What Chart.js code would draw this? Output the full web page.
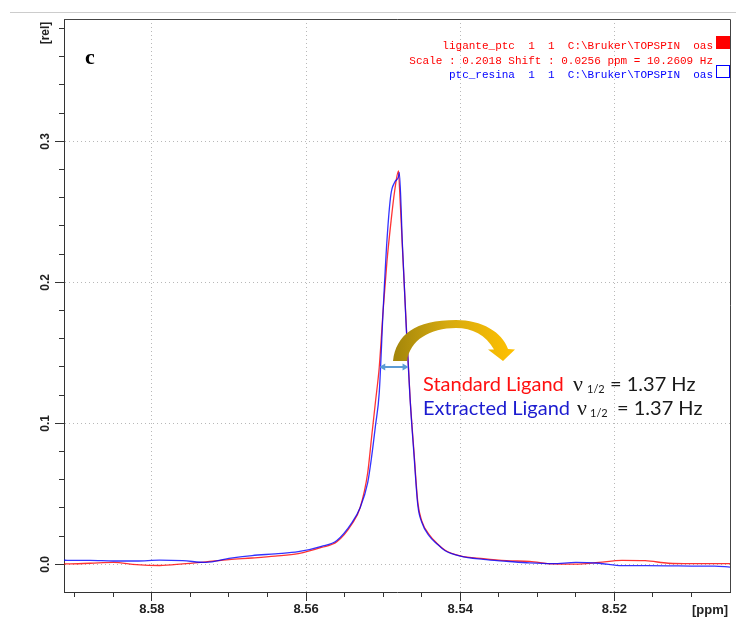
<!DOCTYPE html>
<html><head><meta charset="utf-8">
<script src="https://cdn.jsdelivr.net/npm/chart.js@4.4.0/dist/chart.umd.min.js"></script>
<style>html,body{margin:0;padding:0;background:#fff;}canvas{display:block}</style>
</head><body>
<canvas id="c" width="736" height="618"></canvas>
<script>
// chemical shift axis (ppm), shared by both spectra
const ppm = [8.5914, 8.591, 8.588, 8.585, 8.582, 8.579, 8.576, 8.573, 8.570, 8.567, 8.564, 8.561, 8.558, 8.556, 8.554, 8.553, 8.552, 8.5515, 8.551, 8.5505, 8.550, 8.5495, 8.549, 8.5485, 8.548, 8.5479, 8.5475, 8.547, 8.5465, 8.546, 8.5455, 8.545, 8.544, 8.543, 8.542, 8.540, 8.537, 8.534, 8.531, 8.528, 8.525, 8.522, 8.519, 8.516, 8.513, 8.510, 8.507, 8.505];
// ligante_ptc (standard ligand, red)
const standardLigand = [0.0003, 0.0003, 0.0008, 0.0014, -0.0002, -0.0008, 0.0003, 0.0018, 0.0034, 0.0045, 0.0058, 0.0076, 0.0120, 0.0160, 0.0290, 0.0400, 0.0650, 0.0900, 0.1150, 0.1400, 0.1800, 0.2150, 0.2420, 0.2650, 0.2790, 0.2700, 0.2250, 0.1700, 0.1180, 0.0800, 0.0440, 0.0310, 0.0210, 0.0148, 0.0102, 0.0060, 0.0040, 0.0026, 0.0021, 0.0003, 0.0001, 0.0014, 0.0028, 0.0026, 0.0008, 0.0005, 0.0005, 0.0005];
// ptc_resina (extracted ligand, blue)
const extractedLigand = [0.0030, 0.0028, 0.0028, 0.0024, 0.0024, 0.0030, 0.0026, 0.0014, 0.0042, 0.0062, 0.0075, 0.0090, 0.0128, 0.0170, 0.0300, 0.0400, 0.0580, 0.0760, 0.0980, 0.1220, 0.1800, 0.2300, 0.2620, 0.2710, 0.2750, 0.2780, 0.2270, 0.1680, 0.1170, 0.0780, 0.0420, 0.0300, 0.0200, 0.0145, 0.0098, 0.0058, 0.0035, 0.0022, 0.0010, 0.0005, 0.0014, 0.0008, -0.0009, -0.0009, -0.0010, -0.0012, -0.0013, -0.0019];

const xMajorTicks = [8.58, 8.56, 8.54, 8.52];
const xMinorTicks = [8.59, 8.585, 8.58, 8.575, 8.57, 8.565, 8.56, 8.555, 8.55, 8.545, 8.54, 8.535, 8.53, 8.525, 8.52, 8.515, 8.51];
const yMajorTicks = [0.0, 0.1, 0.2, 0.3];
const yMinorTicks = [0, 0.02, 0.04, 0.06, 0.08, 0.1, 0.12, 0.14, 0.16, 0.18, 0.2, 0.22, 0.24, 0.26, 0.28, 0.3, 0.32, 0.34, 0.36, 0.38];
const xRange = [8.5050, 8.5914];
const yRange = [-0.0196, 0.3868];

const legendLines = [
  {text: 'ligante_ptc  1  1  C:\\Bruker\\TOPSPIN  oas', color: '#ff0000'},
  {text: 'Scale : 0.2018 Shift : 0.0256 ppm = 10.2609 Hz', color: '#ff0000'},
  {text: 'ptc_resina  1  1  C:\\Bruker\\TOPSPIN  oas', color: '#0000ff'}
];

const AX = '#333333';
const tickFontX = {family: 'Liberation Sans', size: 13, weight: 'bold'};
const tickFontY = {family: 'Liberation Sans', size: 12, weight: 'bold'};

const deco = {
  id: 'deco',
  afterDraw(chart) {
    const ctx = chart.ctx, a = chart.chartArea;
    const xs = chart.scales.x, ys = chart.scales.y;
    ctx.save();
    // outer light line
    ctx.strokeStyle = '#cccccc'; ctx.lineWidth = 1;
    ctx.beginPath(); ctx.moveTo(10, 12.5); ctx.lineTo(736, 12.5); ctx.stroke();
    // frame top and right
    ctx.strokeStyle = '#444'; ctx.beginPath();
    ctx.moveTo(a.left, a.top + 0.5); ctx.lineTo(a.right + 0.5, a.top + 0.5); ctx.lineTo(a.right + 0.5, a.bottom);
    ctx.stroke();
    // panel letter
    ctx.fillStyle = '#000'; ctx.font = 'bold 22px "Liberation Serif"';
    ctx.textAlign = 'left'; ctx.textBaseline = 'alphabetic';
    ctx.fillText('c', 85, 64);
    // legend texts
    ctx.font = '11px "Liberation Mono"'; ctx.textAlign = 'right'; ctx.textBaseline = 'middle';
    const ly = [46, 61, 75];
    legendLines.forEach((l, i) => { ctx.fillStyle = l.color; ctx.fillText(l.text, 713, ly[i]); });
    ctx.fillStyle = '#ff0000'; ctx.fillRect(716, 36, 14, 13);
    ctx.strokeStyle = '#0000ff'; ctx.lineWidth = 1; ctx.strokeRect(716.5, 65.5, 13, 12);
    // axis unit labels
    ctx.fillStyle = '#222'; ctx.font = 'bold 12px "Liberation Sans"';
    ctx.save(); ctx.translate(46, 33); ctx.rotate(-Math.PI / 2);
    ctx.textAlign = 'center'; ctx.textBaseline = 'middle'; ctx.fillText('[rel]', 0, 0); ctx.restore();
    ctx.font = 'bold 13px "Liberation Sans"'; ctx.textAlign = 'center'; ctx.textBaseline = 'middle';
    ctx.fillText('[ppm]', 710, 610);
    // half-width double arrow
    const ay = ys.getPixelForValue(0.14);
    const ax1 = xs.getPixelForValue(8.5505), ax2 = xs.getPixelForValue(8.5467);
    ctx.strokeStyle = '#5b9bd5'; ctx.fillStyle = '#5b9bd5'; ctx.lineWidth = 2;
    ctx.beginPath(); ctx.moveTo(ax1 + 4, ay); ctx.lineTo(ax2 - 4, ay); ctx.stroke();
    ctx.beginPath(); ctx.moveTo(ax1, ay); ctx.lineTo(ax1 + 6, ay - 3.5); ctx.lineTo(ax1 + 6, ay + 3.5); ctx.closePath(); ctx.fill();
    ctx.beginPath(); ctx.moveTo(ax2, ay); ctx.lineTo(ax2 - 6, ay - 3.5); ctx.lineTo(ax2 - 6, ay + 3.5); ctx.closePath(); ctx.fill();
    // curved gold arrow
    const g = ctx.createLinearGradient(393, 340, 514, 340);
    g.addColorStop(0, '#a2850a'); g.addColorStop(0.45, '#d6aa10'); g.addColorStop(1, '#ffc000');
    ctx.fillStyle = g;
    ctx.beginPath();
    ctx.moveTo(393, 361);
    ctx.bezierCurveTo(396, 335, 415, 320, 456, 320);
    ctx.bezierCurveTo(482, 320, 502, 332, 508, 349);
    ctx.lineTo(515, 349.5); ctx.lineTo(503, 361); ctx.lineTo(488, 349.5); ctx.lineTo(494, 349.5);
    ctx.bezierCurveTo(486, 335, 472, 328, 456, 328);
    ctx.bezierCurveTo(430, 328, 410, 340, 407, 361);
    ctx.closePath(); ctx.fill();
    // annotation texts
    ctx.textAlign = 'left'; ctx.textBaseline = 'alphabetic';
    ctx.font = '20px Lato';
    ctx.fillStyle = '#ff1010'; ctx.fillText('Standard Ligand', 423, 391);
    ctx.fillStyle = '#1c1cd0'; ctx.fillText('Extracted Ligand', 423, 414.5);
    ctx.fillStyle = '#1a1a1a';
    ctx.font = '22px "Liberation Serif"';
    ctx.fillText('\u03bd', 573, 391); ctx.fillText('\u03bd', 577, 414.5);
    ctx.font = '11px Lato';
    ctx.fillText('1/2', 587, 393); ctx.fillText('1/2', 590, 416.5);
    ctx.font = '20px Lato';
    ctx.fillText('= 1.37 Hz', 610, 391); ctx.fillText('= 1.37 Hz', 617, 414.5);
    ctx.restore();
  }
};

new Chart(document.getElementById('c'), {
  type: 'line',
  data: {
    datasets: [
      {label: 'ptc_resina', data: ppm.map((x, i) => ({x: x, y: extractedLigand[i]})), borderColor: 'rgba(0,0,255,0.8)', borderWidth: 1.3, pointRadius: 0, order: 0, cubicInterpolationMode: 'monotone'},
      {label: 'ligante_ptc', data: ppm.map((x, i) => ({x: x, y: standardLigand[i]})), borderColor: 'rgba(255,0,0,0.8)', borderWidth: 1.3, pointRadius: 0, order: 1, cubicInterpolationMode: 'monotone'}
    ]
  },
  options: {
    responsive: false, animation: false, devicePixelRatio: 1,
    layout: {padding: {top: 19, right: 6, left: 0, bottom: 0}},
    plugins: {legend: {display: false}, tooltip: {enabled: false}},
    scales: {
      x: {type: 'linear', axis: 'x', position: 'bottom', reverse: true, min: xRange[0], max: xRange[1], weight: 1,
        afterFit: s => { s.height = 26; },
        afterBuildTicks: s => { s.ticks = xMajorTicks.map(v => ({value: v})); },
        ticks: {callback: v => Number(v).toFixed(2), maxRotation: 0, minRotation: 0, autoSkip: false, padding: 1, font: tickFontX, color: '#222'},
        grid: {color: '#b8b8b8', lineWidth: 1, tickLength: 9, tickColor: AX, drawTicks: true},
        border: {display: true, color: AX, width: 1, dash: [1, 3]}},
      x2: {type: 'linear', axis: 'x', position: 'bottom', reverse: true, min: xRange[0], max: xRange[1], weight: 0,
        afterFit: s => { s.height = 0; },
        afterBuildTicks: s => { s.ticks = xMinorTicks.map(v => ({value: v})); },
        ticks: {display: false},
        grid: {drawOnChartArea: false, tickLength: 5, tickColor: AX},
        border: {display: false}},
      y: {type: 'linear', axis: 'y', position: 'left', min: yRange[0], max: yRange[1], weight: 1,
        afterFit: s => { s.width = 64; },
        afterBuildTicks: s => { s.ticks = yMajorTicks.map(v => ({value: v})); },
        ticks: {callback: v => Number(v).toFixed(1), minRotation: 90, maxRotation: 90, crossAlign: 'center', autoSkip: false, padding: 1, font: tickFontY, color: '#222'},
        grid: {color: '#b8b8b8', lineWidth: 1, tickLength: 9, tickColor: AX, drawTicks: true},
        border: {display: true, color: AX, width: 1, dash: [1, 3]}},
      y2: {type: 'linear', axis: 'y', position: 'left', min: yRange[0], max: yRange[1], weight: 0,
        afterFit: s => { s.width = 0; },
        afterBuildTicks: s => { s.ticks = yMinorTicks.map(v => ({value: v})); },
        ticks: {display: false},
        grid: {drawOnChartArea: false, tickLength: 5, tickColor: AX},
        border: {display: false}}
    }
  },
  plugins: [deco]
});
</script>
</body></html>
